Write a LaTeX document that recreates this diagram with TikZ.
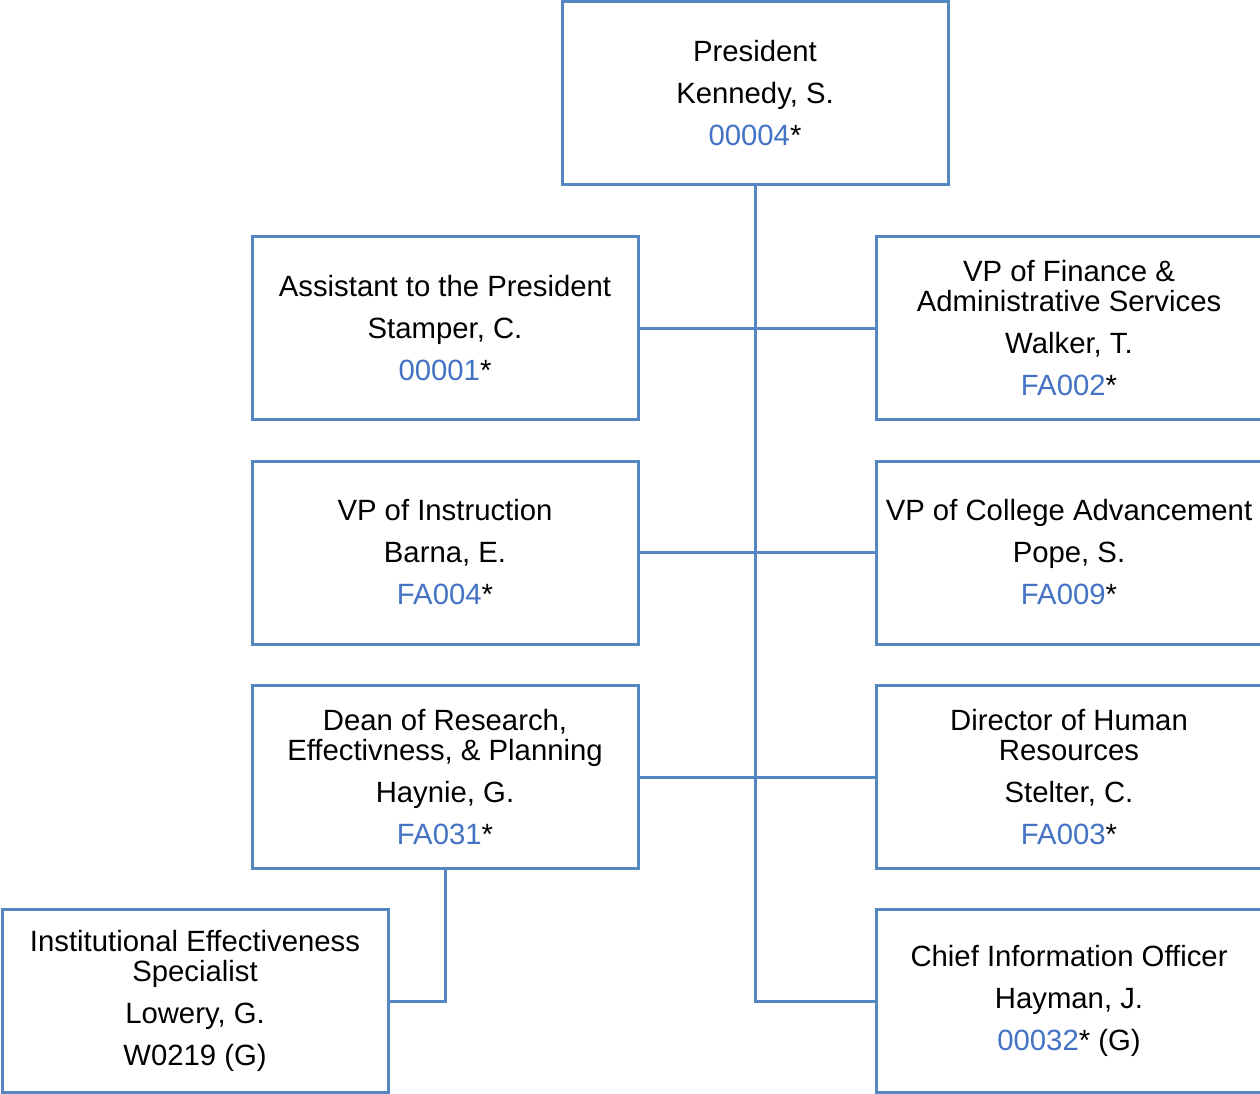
\documentclass[tikz,border=0pt]{standalone}
\usepackage{fontspec}
\setmainfont{Liberation Sans}
\definecolor{boxline}{RGB}{84,134,194}
\definecolor{idblue}{RGB}{68,114,196}
\begin{document}
\begin{tikzpicture}[x=1pt,y=-1pt,
  orgbox/.style={draw=boxline, line width=3pt, fill=white, rectangle,
    minimum width=386pt, minimum height=183pt, inner sep=0pt,
    align=center, font=\fontsize{29.3}{30}\selectfont},
  link/.style={draw=boxline, line width=3pt}]
\useasboundingbox (0,0) rectangle (1260,1094);
\clip (0,0) rectangle (1260,1094);
\newcommand{\gid}[1]{\textcolor{idblue}{#1}}
\node[orgbox] (pres) at (755,93.5) {President\\[12pt]Kennedy, S.\\[12pt]\gid{00004}*};
\coordinate (trunkend) at (755,1001);
\node[orgbox] (asst) at (445,328) {Assistant to the President\\[12pt]Stamper, C.\\[12pt]\gid{00001}*};
\node[orgbox] (vpf) at (1069,328) {VP of Finance \&\\Administrative Services\\[12pt]Walker, T.\\[12pt]\gid{FA002}*};
\node[orgbox] (vpi) at (445,552.5) {VP of Instruction\\[12pt]Barna, E.\\[12pt]\gid{FA004}*};
\node[orgbox] (vpca) at (1069,552.5) {VP of College Advancement\\[12pt]Pope, S.\\[12pt]\gid{FA009}*};
\node[orgbox] (dean) at (445,777) {Dean of Research,\\Effectivness, \& Planning\\[12pt]Haynie, G.\\[12pt]\gid{FA031}*};
\node[orgbox] (dhr) at (1069,777) {Director of Human\\Resources\\[12pt]Stelter, C.\\[12pt]\gid{FA003}*};
\node[orgbox] (ies) at (195,1001) {Institutional Effectiveness\\Specialist\\[12pt]Lowery, G.\\[12pt]W0219 (G)};
\node[orgbox] (cio) at (1069,1001) {Chief Information Officer\\[12pt]Hayman, J.\\[12pt]\gid{00032}* (G)};
\draw[link] (pres.south) -- (trunkend) -- (cio.west);
\draw[link] (asst.east) -- (vpf.west);
\draw[link] (vpi.east) -- (vpca.west);
\draw[link] (dean.east) -- (dhr.west);
\draw[link] (dean.south) |- (ies.east);
\end{tikzpicture}
\end{document}
